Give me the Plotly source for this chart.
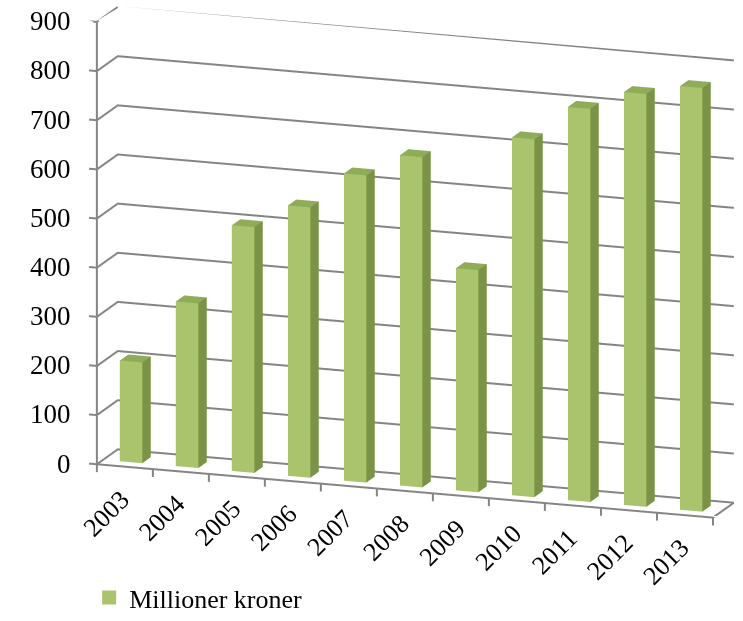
import numpy as np
import plotly.graph_objects as go

# ---- data -------------------------------------------------------------
years = ["2003", "2004", "2005", "2006", "2007", "2008",
         "2009", "2010", "2011", "2012", "2013"]
values = [205, 335, 500, 550, 625, 672, 452, 728, 800, 840, 862]
value_ticks = [0, 100, 200, 300, 400, 500, 600, 700, 800, 900]
series_name = "Millioner kroner"

# ---- styling ----------------------------------------------------------
FRONT = "#A9C46C"
SIDE = "#7A9346"
TOP = "#8FAD58"
GRID = "#858585"
FONT = "Liberation Serif"
VALUE_SIZE = 27
YEAR_SIZE = 26
LEGEND_SIZE = 26

BAR_W = 0.4          # bar width in category units
DEPTH = 1.07         # floor depth in category units
BAR_D = 0.43         # bar depth
HEIGHT = 7.7         # wall height (0..900) in category units
Z_MAX = 900

n = len(years)
x_lo, x_hi = -0.5, n - 0.5

# ---- bars as one mesh (front / side / top coloured separately) --------
vx, vy, vz, ii, jj, kk, fc = [], [], [], [], [], [], []
yb0 = (DEPTH - BAR_D) / 2
yb1 = yb0 + BAR_D
faces = [
    ((0, 1, 2), SIDE), ((0, 2, 3), SIDE),      # bottom
    ((4, 5, 6), TOP), ((4, 6, 7), TOP),        # top
    ((0, 1, 5), FRONT), ((0, 5, 4), FRONT),    # front
    ((3, 2, 6), SIDE), ((3, 6, 7), SIDE),      # back
    ((0, 3, 7), SIDE), ((0, 7, 4), SIDE),      # left
    ((1, 2, 6), SIDE), ((1, 6, 5), SIDE),      # right
]
for i, v in enumerate(values):
    x0, x1 = i - BAR_W / 2, i + BAR_W / 2
    base = len(vx)
    for (px, py, pz) in [(x0, yb0, 0), (x1, yb0, 0), (x1, yb1, 0), (x0, yb1, 0),
                         (x0, yb0, v), (x1, yb0, v), (x1, yb1, v), (x0, yb1, v)]:
        vx.append(px); vy.append(py); vz.append(pz)
    for (a, b, c), col in faces:
        ii.append(base + a); jj.append(base + b); kk.append(base + c)
        fc.append(col)

bars = go.Mesh3d(
    x=vx, y=vy, z=vz, i=ii, j=jj, k=kk, facecolor=fc,
    flatshading=True,
    lighting=dict(ambient=1, diffuse=0, specular=0, roughness=1, fresnel=0),
    hoverinfo="skip", showlegend=False, showscale=False,
)

# ---- walls: gridlines on left side wall and back wall ----------------
gx, gy, gz = [], [], []
for t in value_ticks:
    gx += [x_lo, x_lo, x_hi, None]
    gy += [0, DEPTH, DEPTH, None]
    gz += [t, t, t, None]
grid = go.Scatter3d(x=gx, y=gy, z=gz, mode="lines",
                    line=dict(color=GRID, width=4),
                    hoverinfo="skip", showlegend=False)

# ---- axis frame and tick marks ---------------------------------------
TICK_X = 0.14
TICK_Z = 16
fx, fy, fz = [], [], []
fx += [x_lo, x_lo, None]; fy += [0, 0, None]; fz += [0, Z_MAX, None]
fx += [x_lo, x_hi, x_hi, None]; fy += [0, 0, DEPTH, None]; fz += [0, 0, 0, None]
for t in value_ticks:
    fx += [x_lo - TICK_X, x_lo, None]; fy += [0, 0, None]; fz += [t, t, None]
for b in np.arange(n + 1) - 0.5:
    fx += [b, b, None]; fy += [0, 0, None]; fz += [0, -TICK_Z, None]
frame = go.Scatter3d(x=fx, y=fy, z=fz, mode="lines",
                     line=dict(color=GRID, width=4),
                     hoverinfo="skip", showlegend=False)

# ---- legend entry ----------------------------------------------------
legend_item = go.Scatter(x=[None], y=[None], mode="markers", name=series_name,
                         marker=dict(symbol="square", size=14, color=FRONT))

fig = go.Figure([bars, grid, frame, legend_item])

# ---- labels ----------------------------------------------------------
annotations = []
for i, yr in enumerate(years):
    annotations.append(dict(x=i, y=0, z=0, text=yr, showarrow=False,
                            textangle=-45, xanchor="right", yanchor="top",
                            xshift=13, yshift=-15,
                            font=dict(family=FONT, size=YEAR_SIZE, color="black")))
for t in value_ticks:
    annotations.append(dict(x=x_lo - TICK_X, y=0, z=t, text=str(t), showarrow=False,
                            xanchor="right", yanchor="middle", xshift=-16,
                            font=dict(family=FONT, size=VALUE_SIZE, color="black")))

# ---- camera (orthographic; overall size set through the aspect unit) --
x_range = [x_lo - 0.2, x_hi]
z_range = [-30, Z_MAX]
unit = 0.191
az, el = np.radians(19.2), np.radians(14.4)
view = np.array([np.sin(az) * np.cos(el), -np.cos(az) * np.cos(el), np.sin(el)])
dist = 2.375
look = np.array([-0.1305, 0.0, -0.1483])
eye = look + view * dist

axis_off = dict(visible=False)
fig.update_layout(
    template="none",
    width=743, height=621,
    margin=dict(l=0, r=0, t=0, b=0),
    paper_bgcolor="white", plot_bgcolor="white",
    xaxis=dict(visible=False), yaxis=dict(visible=False),
    showlegend=True,
    legend=dict(x=0.12, y=0, xanchor="left", yanchor="bottom",
                font=dict(family=FONT, size=LEGEND_SIZE, color="black"),
                bgcolor="rgba(0,0,0,0)"),
    scene=dict(
        domain=dict(x=[0, 1], y=[0, 1]),
        xaxis=dict(axis_off, range=x_range),
        yaxis=dict(axis_off, range=[0, DEPTH]),
        zaxis=dict(axis_off, range=z_range),
        aspectmode="manual",
        aspectratio=dict(x=(x_range[1] - x_range[0]) * unit,
                         y=DEPTH * unit,
                         z=(z_range[1] - z_range[0]) / Z_MAX * HEIGHT * unit),
        camera=dict(projection=dict(type="orthographic"),
                    up=dict(x=0, y=0, z=1),
                    center=dict(x=look[0], y=look[1], z=look[2]),
                    eye=dict(x=eye[0], y=eye[1], z=eye[2])),
        annotations=annotations,
        bgcolor="rgba(0,0,0,0)",
    ),
)

fig.write_html("out.html")
